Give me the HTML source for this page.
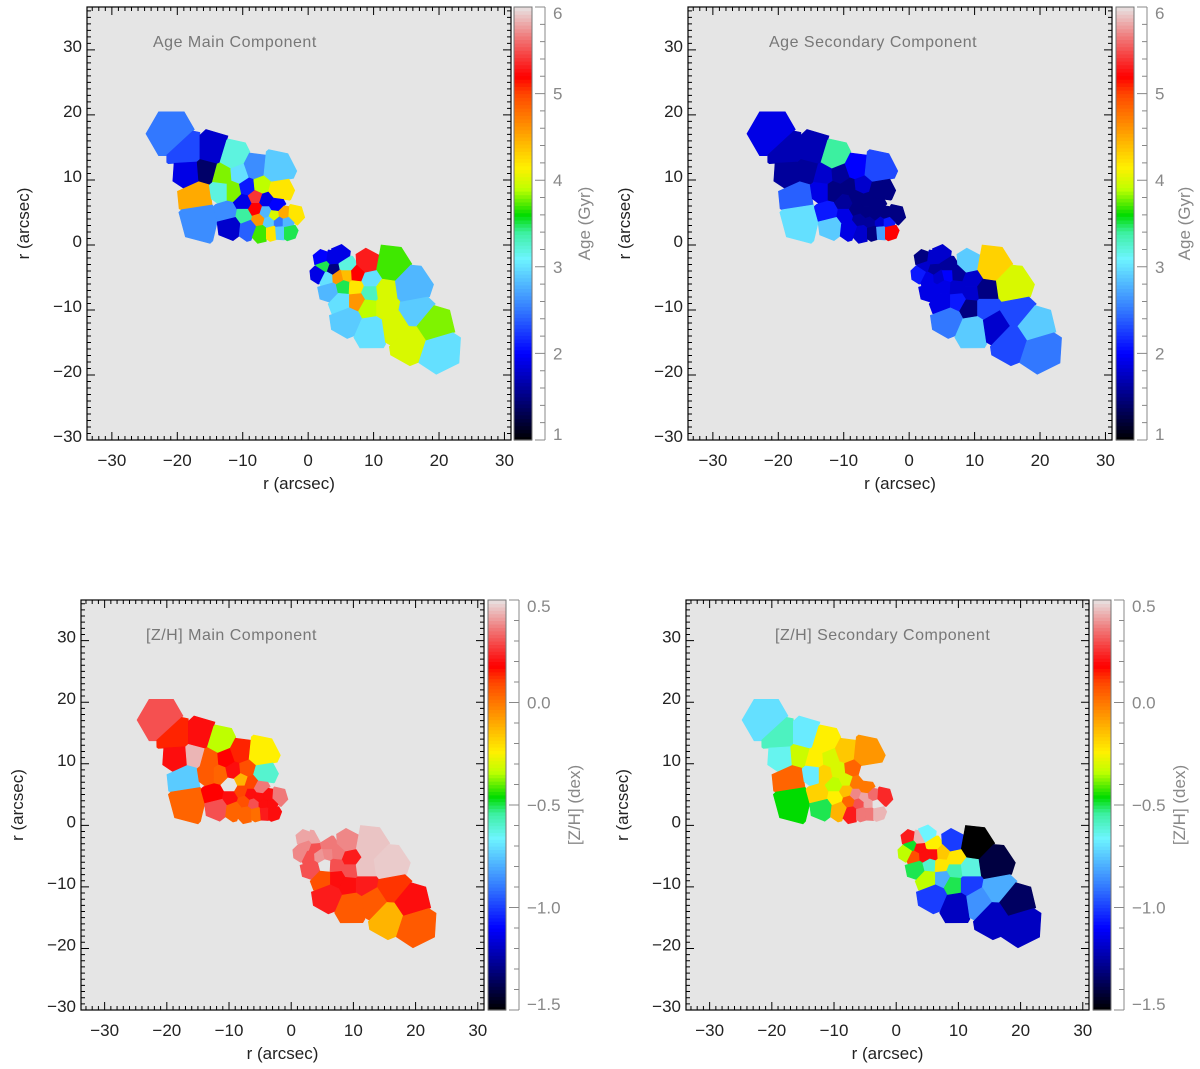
<!DOCTYPE html>
<html><head><meta charset="utf-8"><style>
html,body{margin:0;padding:0;background:#fff;}
svg{display:block;font-family:"Liberation Sans",sans-serif;}
</style></head><body>
<svg id="fig" width="1200" height="1069" viewBox="0 0 1200 1069" xmlns="http://www.w3.org/2000/svg"></svg>
<script>
// Bin centres (arcsec), shared Voronoi tessellation
const binX = [-20.9,-18.3,-14.8,-11.5,-18.1,-15.6,-13,-10.5,-8.2,-5.2,-16.6,-13.3,-11.5,-9.2,-7.2,-4.7,-16,-12.3,-9.7,-8,-6.5,-5,-9.7,-8,-11.8,-9,-7.5,-6.5,-5.2,-3.7,-2.2,-6,-4.4,-3.3,-7.2,-5.6,-4.3,-3,
 2.1,3.6,4.9,2.5,3.7,1.7,2.9,5.9,8.9,12.2,4.6,5.9,7.4,9.4,3.4,5.4,7.2,9.4,11.7,15.3,5.2,7.4,9.2,11.7,16,6.2,9.7,13.2,18.8,15.8,19.8];
const binY = [17.1,14.3,14.3,13.3,11.1,11.3,10.6,10.8,11.6,11.3,7.8,8.3,8.3,8.8,9.0,8.3,4,5,6.5,7.3,6.8,6,4.5,5.5,3,2.7,3.9,5,4.5,4.7,4.6,3.5,3.5,3.5,2,2,2.1,2.1,
 -2.1,-2.3,-1.6,-3.3,-3.7,-4.5,-5.1,-3.2,-3.0,-3.6,-5,-4.7,-4.6,-5.4,-6.9,-6.4,-6.5,-7.4,-7.1,-6.6,-8.6,-8.6,-9.6,-9.6,-10.4,-11.2,-12.7,-12.2,-12.7,-14.7,-16];
const ageMain = [2.5,2.3,1.8,3.2,1.9,1.4,3.8,3.0,2.6,2.9,4.5,3.2,3.8,2.1,3.9,4.2,2.6,2.6,1.9,5.4,1.9,2.0,3.4,5.2,1.8,2.4,4.6,2.8,4.0,4.5,4.2,2.9,2.5,2.8,3.7,4.2,2.9,3.5,
 2.0,1.9,1.9,3.5,1.5,1.9,3.0,3.2,5.3,3.7,4.6,4.4,5.2,3.0,2.8,3.5,4.2,3.3,4.0,2.8,3.0,4.6,3.9,4.0,2.9,2.9,3.0,4.0,3.8,4.0,3.0];
const ageSec = [1.9,1.7,1.7,3.4,1.6,1.6,1.8,1.6,2.0,2.3,2.4,1.9,1.5,1.5,1.8,1.5,3.0,2.1,1.6,1.5,1.5,1.5,1.9,1.5,2.9,1.9,1.6,1.5,1.5,1.5,1.5,1.6,1.8,2.1,1.8,1.5,2.7,5.2,
 1.5,1.8,1.8,1.8,1.6,2.1,1.9,1.6,2.9,4.3,1.8,2.0,1.6,1.8,1.9,1.9,1.8,1.8,1.5,4.0,1.9,2.1,1.5,2.3,2.3,2.5,2.9,1.8,2.9,2.3,2.5];
const zhMain = [0.3,0.14,0.2,-0.34,0.2,0.44,0.06,0.18,0.14,-0.24,-0.74,0.06,0.04,0.2,0.08,-0.6,0.04,0.18,null,-0.12,0.1,0.36,0.2,0.1,0.3,0.04,0.08,0.2,0.2,0.2,0.36,0.3,0.2,0.2,0.04,0.02,0.22,0.2,
 0.42,0.42,null,0.38,0.3,0.38,0.3,0.36,0.38,0.46,0.4,0.38,0.36,0.22,0.3,null,0.3,0.3,0.46,0.47,0.08,0.2,0.2,0.22,0.12,0.22,0.06,0.06,0.2,-0.12,0.06];
const zhSec = [-0.7,-0.58,-0.68,-0.24,-0.64,-0.32,-0.24,-0.3,-0.16,-0.06,0.04,-0.68,-0.18,-0.3,0.04,null,-0.46,-0.18,-0.34,-0.3,0.0,0.0,-0.24,-0.14,-0.5,-0.12,0.04,0.38,0.42,0.34,0.24,0.3,0.42,null,0.22,0.36,0.36,0.44,
 0.22,0.44,-0.66,-0.48,0.2,-0.34,0.08,-0.24,-1.0,-1.5,0.2,0.2,-0.16,-0.22,-0.5,-0.6,-0.22,-0.56,-0.62,-1.4,-0.34,-0.8,-0.5,-1.0,-0.8,-1.0,-1.2,-0.85,-1.35,-1.2,-1.2];
const xTicks = [-30,-20,-10,0,10,20,30];
const yTicks = [-30,-20,-10,0,10,20,30];
const ageTicks = [1,2,3,4,5,6];
const zhTicks = [-1.5,-1.0,-0.5,0.0,0.5];
const zhTickLabels = ["\u22121.5","\u22121.0","\u22120.5","0.0","0.5"];

const NS="http://www.w3.org/2000/svg";
const svg=document.getElementById('fig');
function mk(tag,attrs,parent){const e=document.createElementNS(NS,tag);for(const k in attrs)e.setAttribute(k,attrs[k]);(parent||svg).appendChild(e);return e;}

const cstops=[[0,[0,0,0]],[0.1,[0,0,130]],[0.2,[0,0,255]],[0.3,[50,120,255]],[0.42,[110,245,255]],[0.48,[60,240,160]],[0.52,[0,220,0]],[0.58,[190,255,0]],[0.63,[255,240,0]],[0.72,[255,150,0]],[0.8,[255,70,0]],[0.84,[255,0,0]],[0.93,[240,120,120]],[1,[232,226,226]]];
function cmap(t){t=Math.max(0,Math.min(1,t));for(let i=1;i<cstops.length;i++){if(t<=cstops[i][0]){const a=cstops[i-1],b=cstops[i];const f=(t-a[0])/(b[0]-a[0]);const c=a[1].map((v,k)=>Math.round(v+(b[1][k]-v)*f));return `rgb(${c[0]},${c[1]},${c[2]})`;}}return 'rgb(232,226,226)';}

// Voronoi cells in arcsec
function cells(){
  const n=binX.length,out=[];
  for(let i=0;i<n;i++){
    let nn=1e9;for(let j=0;j<n;j++)if(j!==i){const d=Math.hypot(binX[j]-binX[i],binY[j]-binY[i]);if(d<nn)nn=d;}
    const R=Math.min(1.15*nn,3.9);let poly=[];
    const sides=6+(i%2);
    for(let k=0;k<sides;k++){const a=k/sides*2*Math.PI+i*0.9;poly.push([binX[i]+R*Math.cos(a),binY[i]+R*Math.sin(a)]);}
    for(let j=0;j<n&&poly.length;j++){if(j===i)continue;
      const dx=binX[j]-binX[i],dy=binY[j]-binY[i],mx=(binX[j]+binX[i])/2,my=(binY[j]+binY[i])/2;
      const f=p=>(p[0]-mx)*dx+(p[1]-my)*dy;const np=[];
      for(let k=0;k<poly.length;k++){const p=poly[k],q=poly[(k+1)%poly.length];const fp=f(p),fq=f(q);
        if(fp<=0)np.push(p);if((fp<=0)!==(fq<=0)){const t=fp/(fp-fq);np.push([p[0]+(q[0]-p[0])*t,p[1]+(q[1]-p[1])*t]);}}
      poly=np;}
    out.push(poly);}
  return out;}
const CELLS=cells();

function panel(o){
  const g=mk('g',{});
  const xmin=-33.8,xmax=31,ymin=-30,ymax=36.6;
  const sx=(o.R-o.L)/(xmax-xmin),sy=(o.B-o.T)/(ymax-ymin);
  const X=v=>o.L+(v-xmin)*sx,Y=v=>o.T+(ymax-v)*sy;
  const bg=mk('rect',{x:o.L,y:o.T,width:o.R-o.L,height:o.B-o.T,fill:'#e5e5e5'},g);
  
  CELLS.forEach((poly,i)=>{const v=o.vals[i];if(v===null||!poly.length)return;
    const c=cmap((v-o.vmin)/(o.vmax-o.vmin));
    const p=mk('polygon',{points:poly.map(q=>X(q[0]).toFixed(1)+','+Y(q[1]).toFixed(1)).join(' '),fill:c,stroke:c,'stroke-width':0.6},g);
    });
  const fr=mk('rect',{x:o.L,y:o.T,width:o.R-o.L,height:o.B-o.T,fill:'none',stroke:'#000','stroke-width':1.2},g);
  
  let d='';
  for(let v=-33;v<=31;v++){const x=X(v);const L=(v%10===0)?8:4;d+=`M${x},${o.B}v${-L}M${x},${o.T}v${L}`;}
  for(let v=-30;v<=36;v++){const y=Y(v);const L=(v%10===0)?8:4;d+=`M${o.L},${y}h${L}M${o.R},${y}h${-L}`;}
  mk('path',{d:d,stroke:'#000','stroke-width':1,fill:'none'},g);
  xTicks.forEach(v=>{const t=mk('text',{x:X(v),y:o.B+26,'text-anchor':'middle','font-size':17,fill:'#222'},g);t.textContent=v<0?'\u2212'+(-v):String(v);
    });
  yTicks.forEach(v=>{const t=mk('text',{x:o.L-5,y:Y(v)+2,'text-anchor':'end','font-size':17,fill:'#222'},g);t.textContent=v<0?'\u2212'+(-v):String(v);
    });
  const xl=mk('text',{x:(o.L+o.R)/2,y:o.B+49,'text-anchor':'middle','font-size':17,fill:'#222'},g);xl.textContent='r (arcsec)';
  
  const yc=(o.T+o.B)/2,yx=o.L-58;
  const yl=mk('text',{x:yx,y:yc,'text-anchor':'middle','font-size':17,fill:'#222',transform:`rotate(-90 ${yx} ${yc})`},g);yl.textContent='r (arcsec)';
  
  const ti=mk('text',{x:o.tx,y:o.T+40,'font-size':16,fill:'#777','letter-spacing':'0.5'},g);ti.textContent=o.title;
  
  // colorbar
  const cb=mk('g',{},g);
  const H=o.B-o.T,N=120;
  for(let k=0;k<N;k++){mk('rect',{x:o.cx,y:o.B-(k+1)*H/N,width:o.cw,height:H/N+0.6,fill:cmap((k+0.5)/N)},cb);}
  mk('rect',{x:o.cx,y:o.T,width:o.cw,height:H,fill:'none',stroke:'#777','stroke-width':1},cb);
  const ax=o.cx+o.cw+13;const CY=v=>o.B-(v-o.vmin)/(o.vmax-o.vmin)*H;
  let cd=`M${ax},${o.T}V${o.B}`;
  for(let v=o.vmin;v<=o.vmax+1e-6;v+=o.minor){const y=CY(v);const maj=Math.abs(Math.round(v/o.major)*o.major-v)<1e-6;cd+=`M${ax},${y}h${maj?-10:-5}`;}
  mk('path',{d:cd,stroke:'#888','stroke-width':1,fill:'none'},cb);
  o.ticks.forEach((v,i)=>{const t=mk('text',{x:ax+8,y:CY(v)+(i===0?0:i===o.ticks.length-1?12:6),'font-size':17,fill:'#888'},cb);t.textContent=o.tlabels[i];
    });
  const lx=o.lx;const ct=mk('text',{x:lx,y:yc,'text-anchor':'middle','font-size':17,fill:'#888',transform:`rotate(-90 ${lx} ${yc})`},cb);ct.textContent=o.cbtitle;
  
}
const ageLab=ageTicks.map(String);
panel({name:'panel-age-main',L:87,R:511,T:7,B:440,vals:ageMain,vmin:1,vmax:6,major:1,minor:0.2,ticks:ageTicks,tlabels:ageLab,cx:514,cw:18,lx:590,cbtitle:'Age (Gyr)',title:'Age Main Component',tx:153});
panel({name:'panel-age-secondary',L:688,R:1112,T:7,B:440,vals:ageSec,vmin:1,vmax:6,major:1,minor:0.2,ticks:ageTicks,tlabels:ageLab,cx:1116,cw:18,lx:1190,cbtitle:'Age (Gyr)',title:'Age Secondary Component',tx:769});
panel({name:'panel-zh-main',L:81,R:484,T:600,B:1010,vals:zhMain,vmin:-1.5,vmax:0.5,major:0.5,minor:0.1,ticks:zhTicks,tlabels:zhTickLabels,cx:488,cw:18,lx:580,cbtitle:'[Z/H] (dex)',title:'[Z/H] Main Component',tx:146});
panel({name:'panel-zh-secondary',L:686,R:1089,T:600,B:1010,vals:zhSec,vmin:-1.5,vmax:0.5,major:0.5,minor:0.1,ticks:zhTicks,tlabels:zhTickLabels,cx:1093,cw:18,lx:1185,cbtitle:'[Z/H] (dex)',title:'[Z/H] Secondary Component',tx:775});
</script>
</body></html>
